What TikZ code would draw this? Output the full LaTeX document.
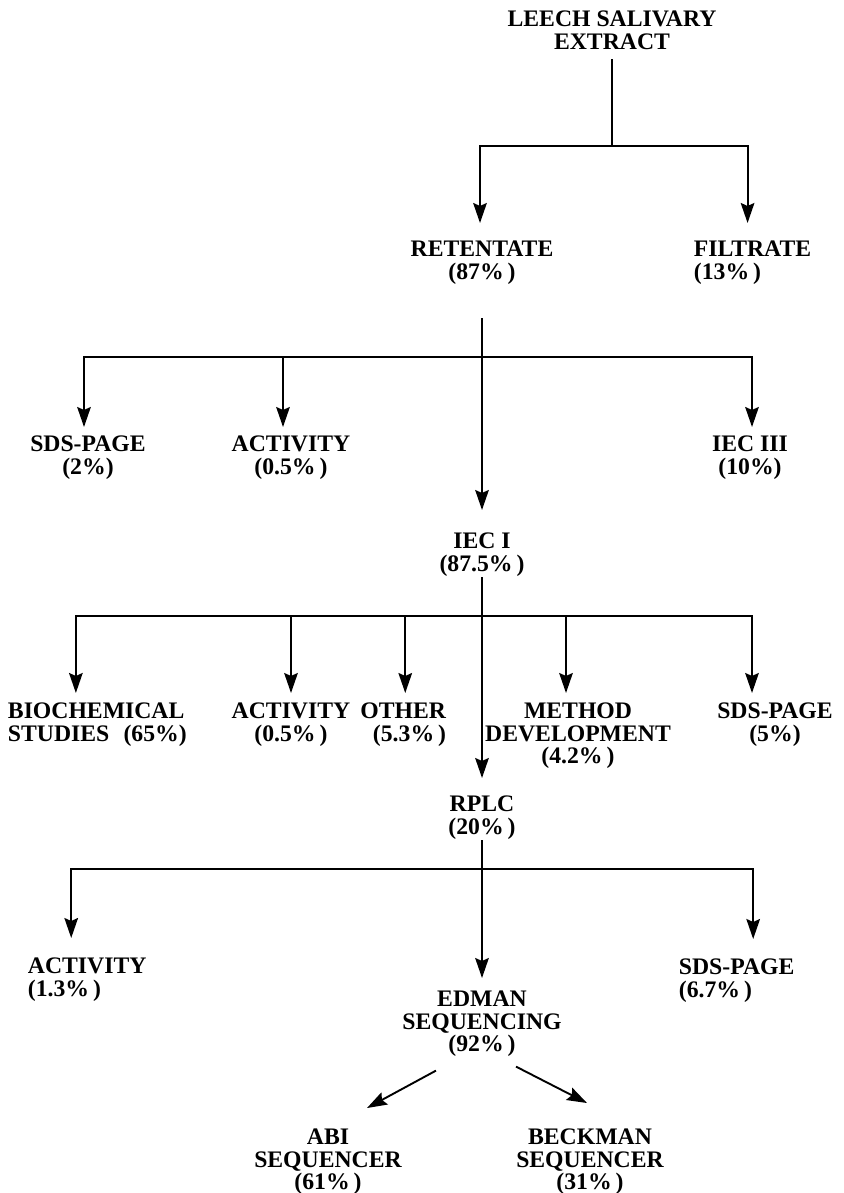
\documentclass[tikz,border=0pt]{standalone}
\usepackage{fontspec}
\setmainfont{Liberation Serif}
\usetikzlibrary{arrows.meta}

\tikzset{
  stage/.style={inner sep=0pt, align=center, anchor=north,
    font=\bfseries\fontsize{11.85pt}{11.25pt}\selectfont},
}

\begin{document}
\begin{tikzpicture}[x=0.5pt,y=-0.5pt,line width=0.95pt,
  >={Stealth[length=10pt,width=6.8pt,inset=1.5pt]}]
  \useasboundingbox (0,0) rectangle (844,1193);

  % main column
  \node[stage] (extract) at (612,10) {LEECH SALIVARY\\EXTRACT};
  \node[stage] (retentate) at (482,240) {RETENTATE\\(87\%\,)};
  \node[stage,anchor=north west,align=left] (filtrate) at (693,240) {FILTRATE\\(13\%\,)};
  \node[stage] (iec1) at (482,532) {IEC I\\(87.5\%\,)};
  \node[stage] (rplc) at (482,795) {RPLC\\(20\%\,)};
  \node[stage] (edman) at (482,990) {EDMAN\\SEQUENCING\\(92\%\,)};

  % side fractions
  \node[stage] (sds1) at (88,435) {SDS-PAGE\\(2\%)};
  \node[stage] (act1) at (291,435) {ACTIVITY\\(0.5\%\,)};
  \node[stage] (iec3) at (750,435) {IEC III\\(10\%)};

  \node[stage,anchor=north west,align=left] (bio) at (7,702) {BIOCHEMICAL\\STUDIES\hspace{0.6em}(65\%)};
  \node[stage] (act2) at (291,702) {ACTIVITY\\(0.5\%\,)};
  \node[stage,anchor=north east,align=right] (other) at (447,702) {OTHER\\(5.3\%\,)};
  \node[stage] (method) at (578,702) {METHOD\\DEVELOPMENT\\(4.2\%\,)};
  \node[stage] (sds2) at (775,702) {SDS-PAGE\\(5\%)};

  \node[stage,anchor=north west,align=left] (act3) at (27,957) {ACTIVITY\\(1.3\%\,)};
  \node[stage,anchor=north west,align=left] (sds3) at (678,958) {SDS-PAGE\\(6.7\%\,)};
  \node[stage] (abi) at (328,1128) {ABI\\SEQUENCER\\(61\%\,)};
  \node[stage] (beckman) at (590,1128) {BECKMAN\\SEQUENCER\\(31\%\,)};

  % branch points
  \coordinate (j1) at (612,146);
  \coordinate (j2) at (482,357);
  \coordinate (j3) at (482,616);
  \coordinate (j4) at (482,869);

  \draw[shorten <=4.5pt] (extract) -- (j1);
  \draw[->,shorten >=8.5pt] (j1) -| ([xshift=-1pt]retentate.north);
  \draw[->,shorten >=8.5pt] (j1) -| ([xshift=-2.5pt]filtrate.north);

  \draw[->,shorten <=16.5pt,shorten >=11pt] (retentate) -- (iec1);
  \foreach \n/\dx in {sds1/-2,act1/-4,iec3/1}
    \draw[->,shorten >=4pt] (j2) -| ([xshift=\dx pt]\n.north);

  \draw[->,shorten >=8.5pt] (iec1) -- (rplc);
  \foreach \n/\dx in {bio/-10.75,act2/0,other/1,method/-6,sds2/-11.5}
    \draw[->,shorten >=4.5pt] (j3) -| ([xshift=\dx pt]\n.north);

  \draw[->,shorten >=6pt] (rplc) -- (edman);
  \foreach \n/\dx in {act3/-8,sds3/8.25}
    \draw[->,shorten >=9.5pt] (j4) -| ([xshift=\dx pt]\n.north);

  \draw[->] ([shift={(-46,13)}]edman.south) -- ([shift={(39,-20)}]abi.north);
  \draw[->] ([shift={(34,9)}]edman.south) -- ([shift={(-3,-25)}]beckman.north);
\end{tikzpicture}
\end{document}
